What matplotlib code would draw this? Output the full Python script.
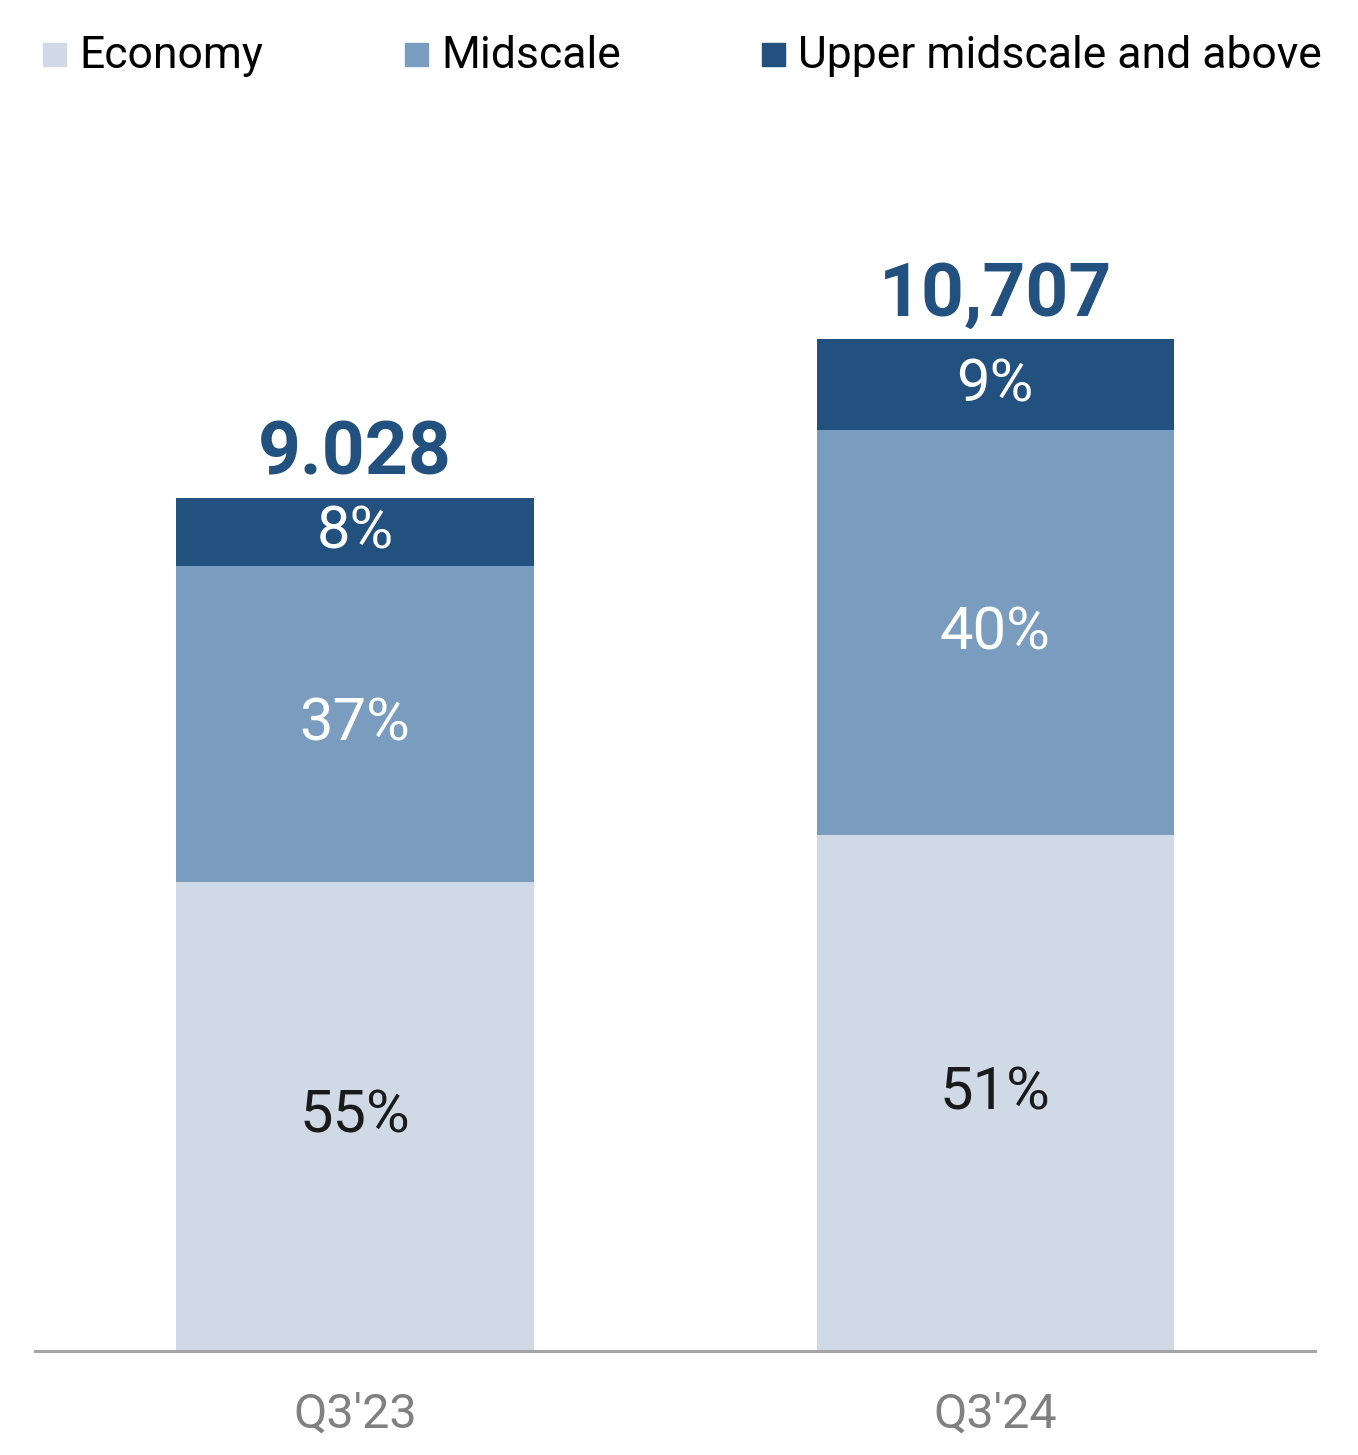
import matplotlib.pyplot as plt
from matplotlib.patches import Rectangle

# hotel room supply by segment
quarters = ["Q3'23", "Q3'24"]
totals = [9028, 10707]
total_labels = ["9.028", "10,707"]
segments = ["Economy", "Midscale", "Upper midscale and above"]
shares = {
    "Economy": [55, 51],
    "Midscale": [37, 40],
    "Upper midscale and above": [8, 9],
}
colors = {
    "Economy": "#D0DAE6",
    "Midscale": "#7A9CBF",
    "Upper midscale and above": "#22507F",
}
text_colors = {
    "Economy": "#1a1a1a",
    "Midscale": "white",
    "Upper midscale and above": "white",
}

plt.rcParams['font.family'] = ['Roboto', 'DejaVu Sans']

fig = plt.figure(figsize=(13.58, 14.55), dpi=100)
ax = fig.add_axes([0.0258, 0.0715, 0.9426, 0.7794])

x = list(range(len(quarters)))
bottom = [0.0] * len(quarters)
for seg in segments:
    vals = [t * s / 100 for t, s in zip(totals, shares[seg])]
    ax.bar(x, vals, width=0.558, bottom=bottom, color=colors[seg], linewidth=0)
    for i, v in enumerate(vals):
        ax.text(x[i], bottom[i] + v / 2, f"{shares[seg][i]}%", ha='center', va='center',
                fontsize=43, color=text_colors[seg])
    bottom = [b + v for b, v in zip(bottom, vals)]

for i, t in enumerate(totals):
    ax.annotate(total_labels[i], (x[i], t), xytext=(0, 17), textcoords='offset points',
                ha='center', va='baseline', fontsize=54, fontweight='bold', color='#22507F')

ax.set_xlim(-0.5, 1.5)
ax.set_ylim(0, 12000)
for side in ['top', 'right', 'left']:
    ax.spines[side].set_visible(False)
ax.spines['bottom'].set_color('#A6A6A6')
ax.spines['bottom'].set_linewidth(2.2)
ax.set_yticks([])
ax.set_xticks(x)
ax.set_xticklabels(quarters, fontsize=35, color='#808080')
ax.tick_params(axis='x', length=0, pad=29)

# legend row across the top
legend_x = [43, 405, 762]
for lx, seg in zip(legend_x, segments):
    fig.patches.append(Rectangle((lx / 1358, 1 - 66 / 1455), 23 / 1358, 23 / 1455,
                                 transform=fig.transFigure, color=colors[seg]))
    fig.text((lx + 36) / 1358, 1 - 56 / 1455, seg, fontsize=32, color='black',
             ha='left', va='center')

fig.savefig("out.png", dpi=100, facecolor='white')
